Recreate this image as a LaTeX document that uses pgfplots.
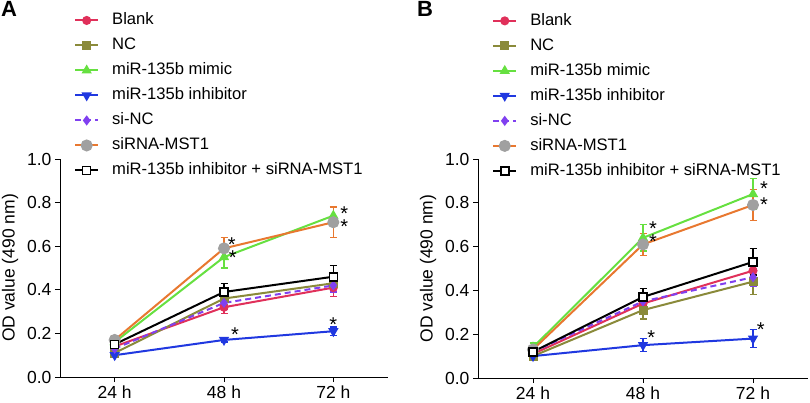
\documentclass[border=0pt]{standalone}
\usepackage{pgfplots}
\pgfplotsset{compat=1.18}
\usepackage{pgfplotstable}
\usepackage{fontspec}
\setmainfont{Liberation Sans}
\definecolor{cBlank}{HTML}{E0305A}
\definecolor{cNC}{HTML}{8A8A3A}
\definecolor{cMimic}{HTML}{66E040}
\definecolor{cInh}{HTML}{2038E0}
\definecolor{cSiNC}{HTML}{8040F0}
\definecolor{cMST}{HTML}{E87830}
\definecolor{cGray}{HTML}{A0A0A0}

\pgfplotstableread{
x blank blankE nc ncE mimic mimicE inh inhE sinc sincE mst mstE combo comboE
0 0.14 0.02 0.11 0.02 0.16 0.02 0.10 0.01 0.13 0.02 0.17 0.02 0.15 0.02
1 0.32 0.03 0.36 0.03 0.55 0.05 0.17 0.01 0.34 0.03 0.59 0.05 0.39 0.04
2 0.41 0.04 0.43 0.03 0.74 0.04 0.21 0.02 0.42 0.03 0.71 0.07 0.46 0.05
}\dataA
\pgfplotstableread{
x blank blankE nc ncE mimic mimicE inh inhE sinc sincE mst mstE combo comboE
0 0.11 0.02 0.10 0.02 0.14 0.02 0.10 0.01 0.12 0.02 0.13 0.02 0.12 0.02
1 0.34 0.03 0.31 0.04 0.64 0.06 0.15 0.03 0.35 0.03 0.61 0.05 0.37 0.04
2 0.49 0.04 0.44 0.06 0.84 0.07 0.18 0.04 0.46 0.04 0.79 0.07 0.53 0.06
}\dataB

\pgfplotsset{
  panel/.style={
    scale only axis,
    axis lines=left,
    axis line style={-, line width=1pt},
    xmin=-0.5, xmax=2.5, ymin=0, ymax=1.0,
    xtick={0,1,2}, xticklabels={24 h,48 h,72 h},
    ytick={0,0.2,0.4,0.6,0.8,1.0},
    yticklabel style={/pgf/number format/.cd, fixed, fixed zerofill, precision=1},
    /pgf/number format/assume math mode=true,
    tick align=outside, major tick length=5pt,
    tick style={line width=1pt, black},
    ticklabel style={font=\fontsize{17.5}{19}\selectfont},
    label style={font=\fontsize{17.5}{19}\selectfont},
    ylabel style={yshift=2pt},
    ylabel={OD value (490 nm)},
    legend cell align=left,
    legend style={draw=none, fill=none, font=\fontsize{16.6}{18}\selectfont,
      row sep=10pt, column sep=0pt, anchor=north west,
      nodes={inner sep=0pt, text height=12pt, text depth=3pt},
      /tikz/every odd column/.append style={column sep=13pt}},
    legend image code/.code={\draw[mark repeat=2,mark phase=2,##1] plot coordinates {(0pt,0pt) (11.5pt,0pt) (23pt,0pt)};},
    every axis plot/.append style={line width=2pt},
    error bars/error bar style={line width=1.3pt},
    error bars/error mark options={rotate=90, mark size=3.5pt, line width=1.3pt},
    clip=false,
  },
  ser/.style={error bars/.cd, y dir=both, y explicit},
}

\newcommand{\series}[1]{%
  \addplot[cBlank, mark=*, mark size=3.5pt, ser] table[x=x,y=blank,y error=blankE]{#1};
  \addlegendentry{Blank}
  \addplot[cNC, mark=square*, mark size=3.5pt, ser] table[x=x,y=nc,y error=ncE]{#1};
  \addlegendentry{NC}
  \addplot[cMimic, mark=triangle*, mark size=4pt, ser] table[x=x,y=mimic,y error=mimicE]{#1};
  \addlegendentry{miR-135b mimic}
  \addplot[cInh, mark=triangle*, mark options={rotate=180}, mark size=4pt, ser] table[x=x,y=inh,y error=inhE]{#1};
  \addlegendentry{miR-135b inhibitor}
  \addplot[cSiNC, dash pattern=on 6pt off 4pt, mark=diamond*, mark options={solid}, mark size=3.5pt, ser] table[x=x,y=sinc,y error=sincE]{#1};
  \addlegendentry{si-NC}
  \addplot[cMST, mark=*, mark options={fill=cGray, draw=cGray}, mark size=5pt, ser] table[x=x,y=mst,y error=mstE]{#1};
  \addlegendentry{siRNA-MST1}
  \addplot[black, mark=square*, mark options={fill=white, line width=1.6pt}, mark size=4pt, ser] table[x=x,y=combo,y error=comboE]{#1};
  \addlegendentry{miR-135b inhibitor + siRNA-MST1}
}

\begin{document}
\begin{tikzpicture}
\useasboundingbox (0pt,0pt) rectangle (810pt,-403pt);
\node[anchor=north west, inner sep=0pt, font=\fontsize{22}{24}\selectfont\bfseries] at (1pt,-1pt) {A};
\node[anchor=north west, inner sep=0pt, font=\fontsize{22}{24}\selectfont\bfseries] at (417pt,-1pt) {B};

\begin{axis}[panel, at={(60pt,-377pt)}, anchor=south west, width=328pt, height=218pt,
  legend style={at={(axis description cs:0.0335,1.68)}}]
\series{\dataA}
\node[font=\fontsize{20}{20}\selectfont, yshift=-3pt] at (axis cs:1.07,0.62) {*};
\node[font=\fontsize{20}{20}\selectfont, yshift=-3pt] at (axis cs:1.08,0.56) {*};
\node[font=\fontsize{20}{20}\selectfont, yshift=-3pt] at (axis cs:1.10,0.21) {*};
\node[font=\fontsize{20}{20}\selectfont, yshift=-3pt] at (axis cs:2.10,0.765) {*};
\node[font=\fontsize{20}{20}\selectfont, yshift=-3pt] at (axis cs:2.10,0.705) {*};
\node[font=\fontsize{20}{20}\selectfont, yshift=-3pt] at (axis cs:2.00,0.255) {*};
\end{axis}

\begin{axis}[panel, at={(478pt,-378pt)}, anchor=south west, width=330pt, height=219pt,
  legend style={at={(axis description cs:0.0335,1.675)}}]
\series{\dataB}
\node[font=\fontsize{20}{20}\selectfont, yshift=-3pt] at (axis cs:1.09,0.695) {*};
\node[font=\fontsize{20}{20}\selectfont, yshift=-3pt] at (axis cs:1.09,0.638) {*};
\node[font=\fontsize{20}{20}\selectfont, yshift=-3pt] at (axis cs:1.075,0.20) {*};
\node[font=\fontsize{20}{20}\selectfont, yshift=-3pt] at (axis cs:2.10,0.877) {*};
\node[font=\fontsize{20}{20}\selectfont, yshift=-3pt] at (axis cs:2.10,0.806) {*};
\node[font=\fontsize{20}{20}\selectfont, yshift=-3pt] at (axis cs:2.07,0.233) {*};
\end{axis}
\end{tikzpicture}
\end{document}
